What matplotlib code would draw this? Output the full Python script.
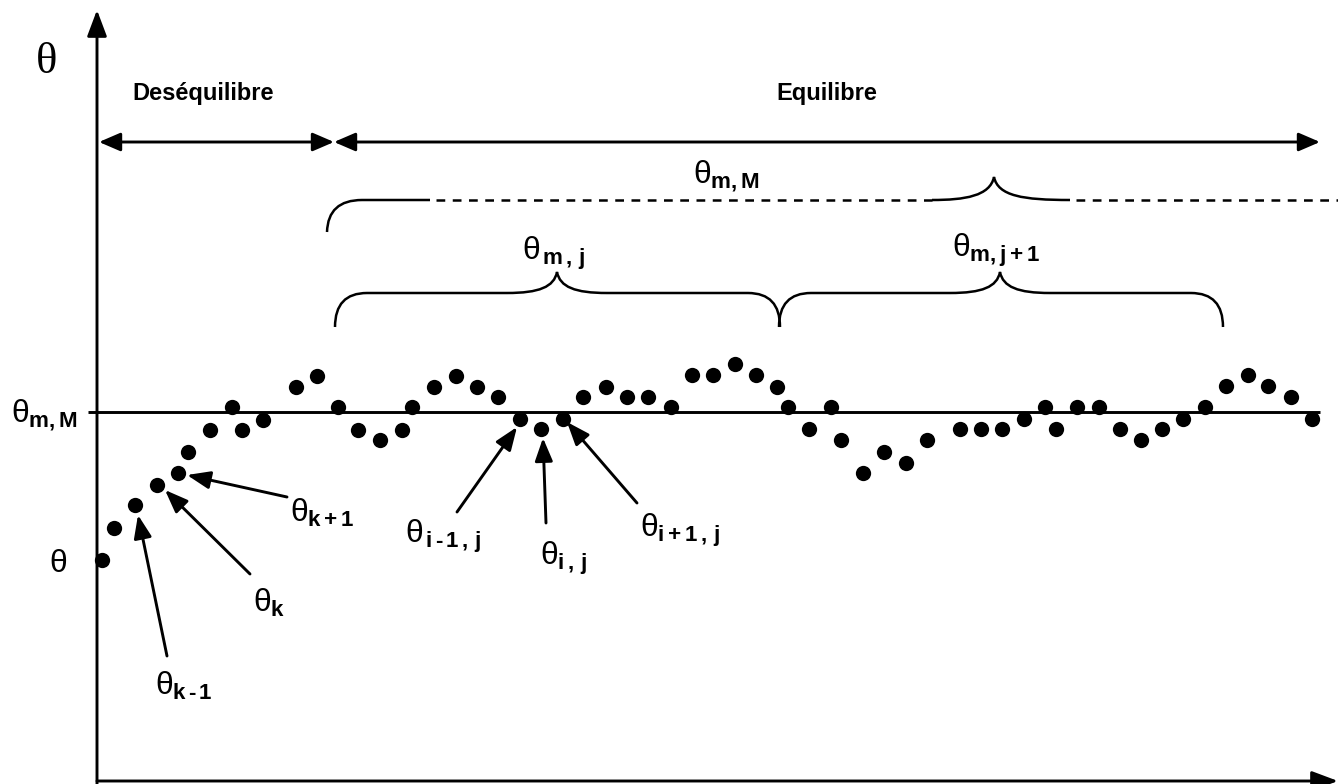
import numpy as np
import matplotlib.pyplot as plt
from matplotlib.path import Path
from matplotlib.patches import PathPatch

plt.rcParams['mathtext.fontset'] = 'custom'
plt.rcParams['mathtext.rm'] = 'Liberation Sans'
plt.rcParams['mathtext.it'] = 'Liberation Sans'
plt.rcParams['mathtext.bf'] = 'Liberation Sans:bold'

# time position of each sample (picture units) and theta deviation from the equilibrium mean
t = [102, 114, 135, 157, 178, 188, 210, 232, 242, 263,
     296, 317, 338, 358, 380, 402, 412, 434, 456, 477,
     498, 520, 541, 563, 583, 606, 627, 648, 671, 692,
     713, 735, 756, 777, 788, 809, 831, 841, 863, 884,
     906, 927, 960, 981, 1002, 1024, 1045, 1056, 1077, 1099,
     1120, 1141, 1162, 1183, 1205, 1226, 1248, 1268, 1291, 1312]
theta = [-148, -116, -93, -73, -61, -40, -18, 5, -18, -8,
         25, 36, 5, -18, -28, -18, 5, 25, 36, 25,
         15, -7, -17, -7, 15, 25, 15, 15, 5, 37,
         37, 48, 37, 25, 5, -17, 5, -28, -61, -40,
         -51, -28, -17, -17, -17, -7, 5, -17, 5, 5,
         -17, -28, -17, -7, 5, 26, 37, 26, 15, -7]
theta_mean = 0

# annotation labels
ann_labels = [r'$\theta_{\mathbf{k\,‐\,1}}$', r'$\theta_{\mathbf{k}}$', r'$\theta_{\mathbf{k+1}}$',
              r'$\theta_{\mathbf{\,i\,‐\,1\,,\,j}}$', r'$\theta_{\mathbf{i\,,\,j}}$',
              r'$\theta_{\mathbf{i+1\,,\,j}}$']

fig = plt.figure(figsize=(13.38, 7.84), dpi=100)
ax = fig.add_axes([0, 0, 1, 1])
ax.set_xlim(0, 1338)
ax.set_ylim(-372, 412)
ax.axis('off')

LW = 2.1
FS = 23

# axes drawn as arrows
ax.annotate('', xy=(97, 402), xytext=(97, -372),
            arrowprops=dict(arrowstyle='-|>,head_length=0.8,head_width=0.3',
                            mutation_scale=20, lw=LW, color='black',
                            shrinkA=0, shrinkB=0), annotation_clip=False)
ax.annotate('', xy=(1338, -369), xytext=(97, -369),
            arrowprops=dict(arrowstyle='-|>,head_length=0.8,head_width=0.3',
                            mutation_scale=20, lw=LW, color='black',
                            shrinkA=0, shrinkB=0), annotation_clip=False)

# equilibrium mean line
ax.plot([88, 1320], [theta_mean, theta_mean], color='black', lw=LW, solid_capstyle='butt')

# data points
ax.plot(t, theta, 'o', color='black', markersize=11, markeredgewidth=0)

# region arrows
for x0, x1 in [(99, 334), (334, 1320)]:
    ax.annotate('', xy=(x1, 270), xytext=(x0, 270),
                arrowprops=dict(arrowstyle='<|-|>,head_length=0.65,head_width=0.28',
                                mutation_scale=20, lw=LW, color='black',
                                shrinkA=0, shrinkB=0), annotation_clip=False)
ax.text(132, 312, 'Deséquilibre', family='Liberation Sans', weight='bold', fontsize=17)
ax.text(776, 312, 'Equilibre', family='Liberation Sans', weight='bold', fontsize=17)


def brace(x0, x1, y_end, y_flat, y_tip, xc=None, r=32):
    xc = (x0 + x1) / 2 if xc is None else xc
    verts = [(x0, y_end), (x0, y_flat), (x0 + r, y_flat),
             (xc - 50, y_flat),
             (xc - 18, y_flat), (xc - 3, y_flat + 6), (xc, y_tip),
             (xc + 3, y_flat + 6), (xc + 18, y_flat), (xc + 50, y_flat),
             (x1 - r, y_flat),
             (x1, y_flat), (x1, y_end)]
    codes = [Path.MOVETO, Path.CURVE3, Path.CURVE3, Path.LINETO,
             Path.CURVE4, Path.CURVE4, Path.CURVE4,
             Path.CURVE4, Path.CURVE4, Path.CURVE4,
             Path.LINETO, Path.CURVE3, Path.CURVE3]
    ax.add_patch(PathPatch(Path(verts, codes), fill=False, lw=1.8, color='black'))


brace(335, 780, 85, 119, 140, xc=557)
brace(779, 1223, 85, 119, 140, xc=1000)

# overall mean brace, partly dashed
hook = Path([(327, 180), (328, 212), (362, 212), (430, 212)],
            [Path.MOVETO, Path.CURVE3, Path.CURVE3, Path.LINETO])
ax.add_patch(PathPatch(hook, fill=False, lw=1.8, color='black'))
mid = Path([(932, 212), (965, 212), (990, 216), (994, 235),
            (998, 216), (1023, 212), (1070, 212)],
           [Path.MOVETO, Path.CURVE4, Path.CURVE4, Path.CURVE4,
            Path.CURVE4, Path.CURVE4, Path.CURVE4])
ax.add_patch(PathPatch(mid, fill=False, lw=1.8, color='black'))
for x0, x1 in [(436, 932), (1076, 1338)]:
    ax.plot([x0, x1], [212, 212], color='black', lw=1.8, ls=(0, (3.5, 3)))

ax.text(693, 229, r'$\theta_{\mathbf{m,M}}$', fontsize=FS)
ax.text(522, 152, r'$\theta_{\mathbf{\,m\,,\,j}}$', fontsize=FS)
ax.text(952, 155, r'$\theta_{\mathbf{m,j+1}}$', fontsize=FS)

# axis labels
ax.text(36, 339, 'θ', family='Liberation Serif', fontsize=32)
ax.text(49, -160, 'θ', family='Liberation Sans', fontsize=FS)
ax.text(11, -10, r'$\theta_{\mathbf{m,M}}$', fontsize=FS)

# pointer annotations: (label pos, arrow tail, arrow tip)
ann_text = [(155, -283), (253, -200), (290, -110), (405, -131), (540, -153), (640, -125)]
ann_tail = [(167, -244), (250, -162), (287, -85), (457, -100), (546, -111), (637, -91)]
ann_tip = [(138, -103), (165, -78), (187, -63), (517, -15), (543, -26), (567, -10)]
for lab, pt, tl, tp in zip(ann_labels, ann_text, ann_tail, ann_tip):
    ax.text(pt[0], pt[1], lab, fontsize=FS)
    ax.annotate('', xy=tp, xytext=tl,
                arrowprops=dict(arrowstyle='-|>,head_length=0.7,head_width=0.27',
                                mutation_scale=20, lw=2.1, color='black',
                                shrinkA=0, shrinkB=0))

fig.savefig('out.png', dpi=100)
